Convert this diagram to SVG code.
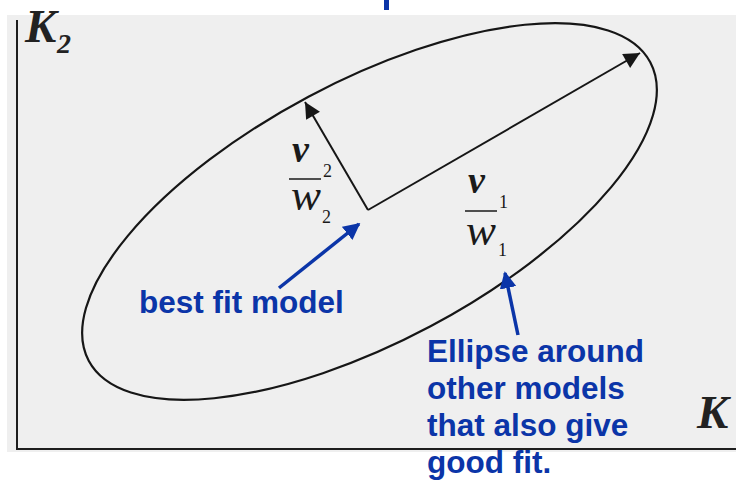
<svg xmlns="http://www.w3.org/2000/svg" width="736" height="480" viewBox="0 0 736 480">
<defs>
<style>
.axis{stroke:#1e1e1e;stroke-width:2;fill:none}
.ell{stroke:#161616;stroke-width:2.2;fill:none}
.vec{stroke:#161616;stroke-width:2;fill:none}
.blue{stroke:#0b35a8;stroke-width:3.5;fill:none}
.lbl{font-family:"Liberation Sans",Arial,sans-serif;font-weight:bold;font-size:31.5px;fill:#0b35a8}
.kk{font-family:"Liberation Serif","Times New Roman",serif;font-weight:bold;font-style:italic;fill:#222222}
.vv{font-family:"Liberation Serif","Times New Roman",serif;font-weight:bold;font-style:italic;font-size:38px;fill:#1a1a1a}
.ww{font-family:"Liberation Serif","Times New Roman",serif;font-style:italic;font-size:45px;fill:#1a1a1a}
.sm{font-family:"Liberation Serif","Times New Roman",serif;font-size:18px;fill:#1a1a1a}
</style>
<marker id="ah" viewBox="0 0 10 10" refX="10" refY="5" markerWidth="9" markerHeight="8" markerUnits="strokeWidth" orient="auto"><path d="M0,0 L10,5 L0,10 Z" fill="#161616"/></marker>
<marker id="bh" viewBox="0 0 10 10" refX="9" refY="5" markerWidth="4.8" markerHeight="4.8" markerUnits="strokeWidth" orient="auto"><path d="M0,0 L10,5 L0,10 Z" fill="#0b35a8"/></marker>
</defs>
<rect x="0" y="0" width="736" height="480" fill="#ffffff"/>
<rect x="7" y="15" width="729" height="437" fill="#efefef"/>
<rect x="384" y="0" width="5" height="10" fill="#0b35a8"/>
<g id="axes">
<path class="axis" d="M17,20 L17,449 L736,449"/>
<text class="kk" x="25" y="42" font-size="47">K</text>
<text class="kk" x="57" y="53" font-size="28">2</text>
<text class="kk" x="697" y="428" font-size="47">K</text>
</g>
<g id="ellipse">
<ellipse class="ell" cx="369.5" cy="211.5" rx="318" ry="130" transform="rotate(-28 369.5 211.5)"/>
</g>
<g id="v1-label">
<text class="vv" x="468" y="193">v</text>
<line x1="465" y1="211" x2="497" y2="211" stroke="#1a1a1a" stroke-width="1.5"/>
<text class="sm" x="499" y="208">1</text>
<text class="ww" x="466" y="245">w</text>
<text class="sm" x="498" y="256">1</text>
</g>
<g id="v2-label">
<text class="vv" x="292" y="162">v</text>
<line x1="289" y1="179" x2="321" y2="179" stroke="#1a1a1a" stroke-width="1.5"/>
<text class="sm" x="323" y="177">2</text>
<text class="ww" x="291" y="210">w</text>
<text class="sm" x="322" y="223">2</text>
</g>
<g id="best-fit-label">
<text class="lbl" x="139" y="313">best fit model</text>
</g>
<g id="ellipse-label">
<text class="lbl" x="427" y="362">Ellipse around</text>
<text class="lbl" x="427" y="399">other models</text>
<text class="lbl" x="427" y="436">that also give</text>
<text class="lbl" x="427" y="473">good fit.</text>
</g>
<g id="connectors">
<path class="vec" d="M368,210 L640,53" marker-end="url(#ah)"/>
<path class="vec" d="M368,210 L305,102" marker-end="url(#ah)"/>
<path class="blue" d="M279,288 L359,224" marker-end="url(#bh)"/>
<path class="blue" d="M518,335 L505,273" marker-end="url(#bh)"/>
</g>
</svg>
